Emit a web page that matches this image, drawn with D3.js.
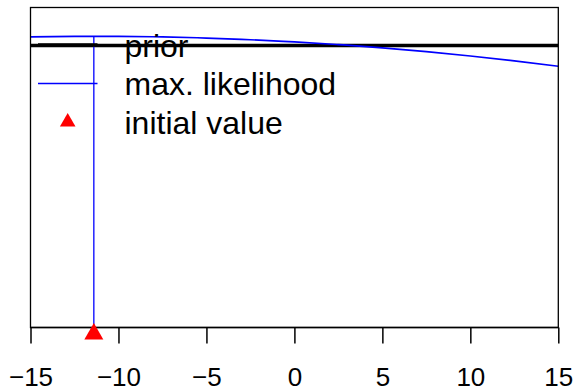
<!DOCTYPE html>
<html>
<head>
<meta charset="utf-8">
<script src="https://cdn.jsdelivr.net/npm/d3@7/dist/d3.min.js"></script>
<style>
html,body{margin:0;padding:0;background:#fff;}
svg{display:block;}
</style>
</head>
<body>
<svg id="chart" width="576" height="391"></svg>
<script>
// ---- data ----
const xTicks = [-15, -10, -5, 0, 5, 10, 15];
const curveX = [-15, -12.5, -11.4, -10, -7.5, -5, -2.5, 0, 2.5, 5, 7.5, 10, 12.5, 15];
const curveY = [0.9083, 0.9098, 0.9100, 0.9098, 0.9080, 0.9045, 0.8992, 0.8925, 0.8840, 0.8739, 0.8619, 0.8485, 0.8334, 0.8164];
const priorValue = 0.881;
const maxLikX = -11.4;
const maxLikY = 0.9100;
const initialX = -11.4;
const initialY = 0;
const legendLabels = ["prior", "max. likelihood", "initial value"];

// ---- layout ----
const svg = d3.select("#chart");
const pLeft = 30.5, pRight = 558.3, pTop = 7.5, pBottom = 327.5;
const x = d3.scaleLinear().domain([-15, 15]).range([pLeft, pRight]);
const y = d3.scaleLinear().domain([0, 1]).range([pBottom, pTop]);
const font = "'Liberation Sans', Arial, Helvetica, sans-serif";

svg.append("defs").append("clipPath").attr("id", "clip")
  .append("rect").attr("x", pLeft).attr("y", pTop).attr("width", pRight - pLeft).attr("height", pBottom - pTop);

const plot = svg.append("g").attr("clip-path", "url(#clip)");

// prior line
plot.append("line")
  .attr("x1", pLeft).attr("x2", pRight)
  .attr("y1", y(priorValue)).attr("y2", y(priorValue))
  .attr("stroke", "#000").attr("stroke-width", 3.5);

// likelihood curve
const pts = curveX.map((d, i) => [d, curveY[i]]);
plot.append("path")
  .datum(pts)
  .attr("fill", "none")
  .attr("stroke", "#0000ff")
  .attr("stroke-width", 1.7)
  .attr("d", d3.line().x(d => x(d[0])).y(d => y(d[1])).curve(d3.curveNatural));

// max likelihood vertical
plot.append("line")
  .attr("x1", x(maxLikX)).attr("x2", x(maxLikX))
  .attr("y1", y(maxLikY)).attr("y2", y(0))
  .attr("stroke", "#0000ff").attr("stroke-width", 1.3);

// box
svg.append("rect")
  .attr("x", pLeft).attr("y", pTop).attr("width", pRight - pLeft).attr("height", pBottom - pTop)
  .attr("fill", "none").attr("stroke", "#000").attr("stroke-width", 1.3);

// x axis
const axis = svg.append("g").attr("transform", `translate(0,${pBottom})`)
  .call(d3.axisBottom(x).tickValues(xTicks).tickSize(16).tickPadding(24)
    .tickFormat(d => (d < 0 ? "\u2212" + Math.abs(d) : String(d))));
axis.select(".domain").attr("stroke", "#000").attr("stroke-width", 1.5)
  .attr("d", `M${pLeft},0H${pRight}`);
axis.selectAll(".tick line").attr("stroke", "#000").attr("stroke-width", 1.5);
axis.selectAll(".tick text").attr("fill", "#000")
  .style("font-family", font).style("font-size", "26px");

// initial value triangle
svg.append("path")
  .attr("d", d3.symbol().type(d3.symbolTriangle).size(156)())
  .attr("transform", `translate(${x(initialX)},${y(initialY) + 6.5})`)
  .attr("fill", "#ff0000");

// legend
const rowY = [45, 83.5, 122];
const lg = svg.append("g");
lg.append("line").attr("x1", 38).attr("x2", 97.5).attr("y1", rowY[0]).attr("y2", rowY[0])
  .attr("stroke", "#000").attr("stroke-width", 3.5);
lg.append("line").attr("x1", 38).attr("x2", 97.5).attr("y1", rowY[1]).attr("y2", rowY[1])
  .attr("stroke", "#0000ff").attr("stroke-width", 1.5);
lg.append("path")
  .attr("d", d3.symbol().type(d3.symbolTriangle).size(105)())
  .attr("transform", `translate(67.7,${rowY[2]})`)
  .attr("fill", "#ff0000");
lg.selectAll("text").data(legendLabels).join("text")
  .attr("x", 124.5)
  .attr("y", (d, i) => rowY[i] + 11.5)
  .style("font-family", font).style("font-size", "32px")
  .attr("fill", "#000")
  .text(d => d);
</script>
</body>
</html>
